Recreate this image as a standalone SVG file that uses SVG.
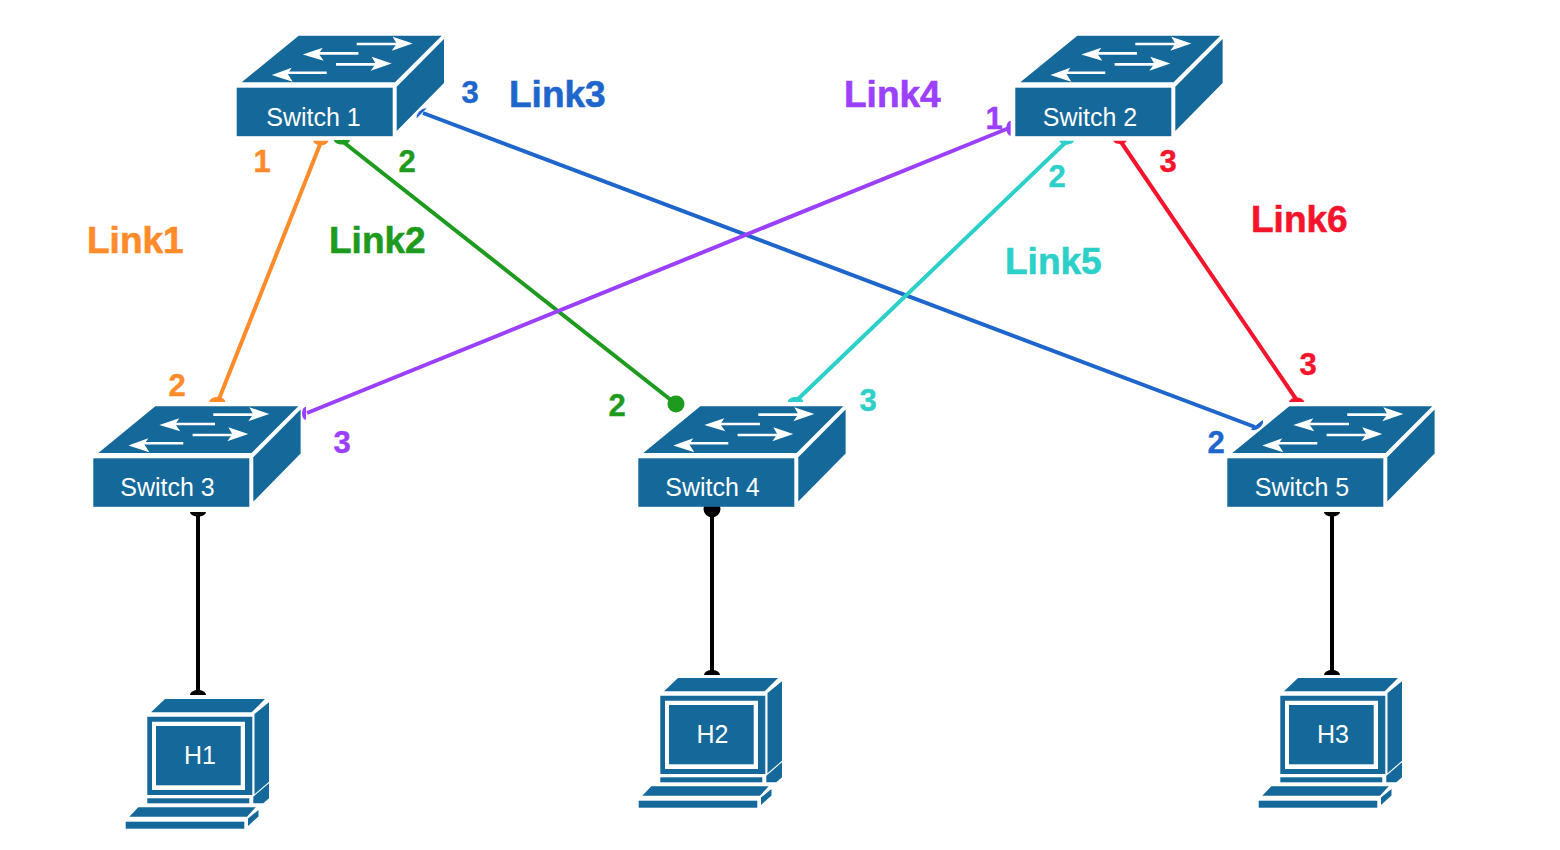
<svg xmlns="http://www.w3.org/2000/svg" width="1560" height="850" viewBox="0 0 1560 850">
<style>
text{font-family:"Liberation Sans",Arial,sans-serif}
.s{fill:#14689a}
.a{fill:none;stroke:#fff;stroke-width:2.6}
.h{fill:#fff}
.n{fill:#fff;font-size:25px;text-anchor:middle}
.k{font-weight:bold;font-size:37px;stroke-width:.6px}
.p{font-weight:bold;font-size:31px;text-anchor:middle;stroke-width:.4px}
.l{fill:none;stroke-width:4}
.o{color:#ff8b2b}.g{color:#1e9b1e}.b{color:#1e66cc}.u{color:#9b40ff}.c{color:#2cd0c8}.r{color:#f5142b}.z{color:#000}
#connectors path,#connectors circle{fill:currentColor}
#connectors .l{fill:none;stroke:currentColor}
.orange{fill:#ff8b2b;stroke:#ff8b2b}.green{fill:#1e9b1e;stroke:#1e9b1e}.blue{fill:#1e66cc;stroke:#1e66cc}.purple{fill:#9b40ff;stroke:#9b40ff}.cyan{fill:#2cd0c8;stroke:#2cd0c8}.red{fill:#f5142b;stroke:#f5142b}
</style>
<defs>
<g id="sw">
<rect class="s" x="0" y="0" width="156" height="48.5"/>
<polygon class="s" points="5,-5.4 62,-52 205,-52 158.3,-5.4"/>
<polygon class="s" points="160,-1 207.3,-48.7 207.3,-4.7 160,43.3"/>
<path class="a" d="M120,-43.7H163"/><polygon class="h" points="176,-44.3 156,-51 160,-44 155,-37"/>
<path class="a" d="M121.7,-34.3H79"/><polygon class="h" points="66,-33.3 86,-40 82,-34 87,-27"/>
<path class="a" d="M99.3,-23.3H142"/><polygon class="h" points="155,-24.3 135,-31 139,-24 134,-17"/>
<path class="a" d="M90,-15H48"/><polygon class="h" points="35,-12.7 55,-20 51,-14 56,-6"/>
</g>
<g id="pc">
<polygon class="s" points="151,712.3 165,699 265,699 251.7,712.3"/>
<path class="s" fill-rule="evenodd" d="M147.3,716.7H252.3V795H147.3ZM152,721.7V790H245V721.7Z"/>
<rect class="s" x="156" y="726" width="84.7" height="59.3"/>
<polygon class="s" points="254.5,714 269,702.3 269,781.7 254.5,794.3"/>
<polygon class="s" points="253.3,796.7 269,783.3 269,798.3 263.3,803.3 253.3,803.3"/>
<rect class="s" x="147.3" y="798.3" width="102" height="5"/>
<polygon class="s" points="129.3,816.7 138.3,807.3 255.7,807.3 247,816.7"/>
<rect class="s" x="125.7" y="821.7" width="118.6" height="7"/>
<polygon class="s" points="248,818.5 258.5,810 258.5,816.5 248,826"/>
</g>
</defs>
<rect width="1560" height="850" fill="#fff"/>
<g id="connectors">
<g class="o"><path class="l" d="M321,142L219,399"/><path d="M313.3,140.7A7.5,4.5 0 0 0 328.3,140.7Z"/><path d="M209.3,402A8,5 0 0 1 225.3,402Z"/></g>
<g class="g"><path class="l" d="M342,141L676,404"/><path d="M334,140A8,4.5 0 0 0 350,140Z"/><circle cx="676" cy="404" r="8.5"/></g>
<g class="b"><path class="l" d="M423,113L1255,427"/><path d="M416.7,118.3A7.5,4.5 -45 0 1 426.7,108.3Z"/><path d="M1251,429.3A7.5,4.5 -38 0 0 1262.7,420Z"/></g>
<g class="u"><path class="l" d="M1009,128L307,413"/><path d="M1010.7,120.7A4.5,7.5 0 0 0 1010.7,135.7Z"/><path d="M306,406.7A4.5,6.7 0 0 0 306,420Z"/></g>
<g class="c"><path class="l" d="M1066,142L796,401"/><path d="M1059.3,140.7A7.4,4.5 0 0 0 1074,140.7Z"/><path d="M787.7,402A7.8,5 0 0 1 803.3,402Z"/></g>
<g class="r"><path class="l" d="M1121,142L1296,399"/><path d="M1113.3,140.7A7,4.5 0 0 0 1126.7,140.7Z"/><path d="M1289,402A7.7,5 0 0 1 1304.3,402Z"/></g>
<g class="z"><path class="l" d="M198,512V693"/><path d="M190,512A8,4.5 0 0 0 206,512Z"/><path d="M190,695A8,5 0 0 1 206,695Z"/>
<path class="l" d="M712,509V672"/><circle cx="712" cy="509" r="8.5"/><path d="M704,675A8,5 0 0 1 720,675Z"/>
<path class="l" d="M1332,512V672"/><path d="M1324,512A8,4.5 0 0 0 1340,512Z"/><path d="M1324,675A8,5 0 0 1 1340,675Z"/></g>
</g>
<g id="switch1"><use href="#sw" x="236.7" y="87.7"/><text class="n" x="313.5" y="125.5">Switch 1</text></g>
<g id="switch2"><use href="#sw" x="1015.3" y="87.7"/><text class="n" x="1090" y="125.5">Switch 2</text></g>
<g id="switch3"><use href="#sw" x="93.3" y="458.3"/><text class="n" x="167.5" y="496">Switch 3</text></g>
<g id="switch4"><use href="#sw" x="638.3" y="458.3"/><text class="n" x="712.5" y="496">Switch 4</text></g>
<g id="switch5"><use href="#sw" x="1227.3" y="458.3"/><text class="n" x="1302" y="496">Switch 5</text></g>
<g id="h1"><use href="#pc"/><text class="n" x="200" y="764">H1</text></g>
<g id="h2"><use href="#pc" x="513" y="-21"/><text class="n" x="712.5" y="743">H2</text></g>
<g id="h3"><use href="#pc" x="1133" y="-21"/><text class="n" x="1333" y="743">H3</text></g>
<g id="labels">
<text class="k orange" x="87" y="252.5">Link1</text>
<text class="k green" x="329" y="252.5">Link2</text>
<text class="k blue" x="509" y="107">Link3</text>
<text class="k purple" x="844" y="107">Link4</text>
<text class="k cyan" x="1005" y="274">Link5</text>
<text class="k red" x="1251" y="232">Link6</text>
<text class="p orange" x="262" y="172">1</text>
<text class="p orange" x="177" y="396">2</text>
<text class="p green" x="407" y="172">2</text>
<text class="p green" x="617" y="416">2</text>
<text class="p blue" x="470" y="103">3</text>
<text class="p blue" x="1216" y="453">2</text>
<text class="p purple" x="994" y="129">1</text>
<text class="p purple" x="342" y="453">3</text>
<text class="p cyan" x="1057" y="187">2</text>
<text class="p cyan" x="868" y="411">3</text>
<text class="p red" x="1168" y="172">3</text>
<text class="p red" x="1308" y="375">3</text>
</g>
</svg>
